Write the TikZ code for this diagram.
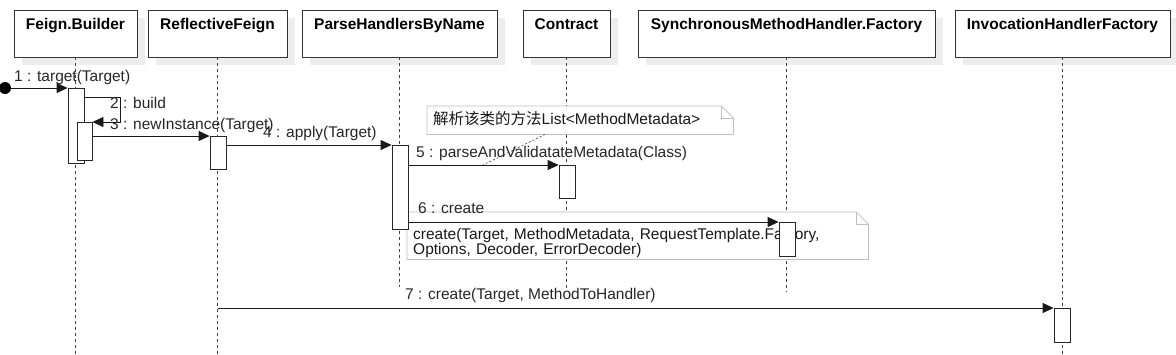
\documentclass[tikz,border=0pt]{standalone}
\usepackage{fontspec}
\setmainfont{Liberation Sans}
\newfontfamily\cjk{Noto Sans CJK SC}
\usetikzlibrary{arrows.meta,shadows}

\begin{document}
\begin{tikzpicture}[x=1pt, y=-1pt, font=\fontsize{15.5}{15}\selectfont,
    >={Triangle[length=11pt,width=10pt]},
    obj/.style={draw=black!80, line width=0.8pt, fill=white,
                minimum height=47pt, text height=10pt, text depth=18pt,
                inner xsep=0pt, font=\fontsize{15.5}{18}\selectfont\bfseries,
                general shadow={fill=black!7, shadow xshift=8pt, shadow yshift=-8pt}},
    lifeline/.style={black!75, line width=0.8pt, dash pattern=on 3pt off 3pt},
    act/.style={draw=black!85, line width=0.8pt, fill=white,
                minimum width=16pt, inner sep=0pt, anchor=north},
    msg/.style={->, black!90, line width=0.8pt},
    lbl/.style={anchor=base west, inner sep=0pt, text=black!85},
    note/.style={anchor=north west, fill=white, inner xsep=6pt, inner ysep=0pt,
                 align=left, text=black!90, text height=11pt, text depth=3pt},
    notedraw/.style={draw=black!25, line width=0.8pt},
    notelink/.style={black!75, line width=0.6pt, dash pattern=on 2pt off 2pt}]

\useasboundingbox (0,0) rectangle (1176,354);

% objects
\node[obj, minimum width=123pt] (fb)   at (75.5, 33.5) {Feign.Builder};
\node[obj, minimum width=139pt] (rf)   at (217.5,33.5) {ReflectiveFeign};
\node[obj, minimum width=195pt] (phbn) at (399.5,33.5) {ParseHandlersByName};
\node[obj, minimum width=87pt]  (ctr)  at (566.5,33.5) {Contract};
\node[obj, minimum width=297pt] (smhf) at (786.5,33.5) {SynchronousMethodHandler.Factory};
\node[obj, minimum width=215pt] (ihf)  at (1062.5,33.5) {InvocationHandlerFactory};

% lifelines
\draw[lifeline] (fb.south)   -- (fb.south |- 0,354);
\draw[lifeline] (rf.south)   -- (rf.south |- 0,354);
\draw[lifeline] (phbn.south) -- (phbn.south |- 0,287);
\draw[lifeline] (ctr.south)  -- (ctr.south |- 0,290);
\draw[lifeline] (smhf.south) -- (smhf.south |- 0,292);
\draw[lifeline] (ihf.south)  -- (ihf.south |- 0,354);

% notes
\node[note, minimum width=306pt, minimum height=28pt, text width=294pt]
    (n1) at (427,106) {{\cjk 解析该类的方法}List<MethodMetadata>};
\draw[notedraw] (n1.north west) -- ([xshift=-12pt]n1.north east)
    -- ([yshift=-12pt]n1.north east) -- (n1.south east) -- (n1.south west) -- cycle;
\draw[notedraw] ([xshift=-12pt]n1.north east) |- ([yshift=-12pt]n1.north east);

\node[note, minimum width=461pt, minimum height=47pt, text width=449pt]
    (n2) at (407,212) {create(Target, MethodMetadata, RequestTemplate.Factory,\\
                       Options, Decoder, ErrorDecoder)};
\draw[notedraw] (n2.north west) -- ([xshift=-12pt]n2.north east)
    -- ([yshift=-12pt]n2.north east) -- (n2.south east) -- (n2.south west) -- cycle;
\draw[notedraw] ([xshift=-12pt]n2.north east) |- ([yshift=-12pt]n2.north east);

% activations
\node[act, minimum height=75pt] (a1) at (76,88) {};
\node[act, minimum height=38pt, minimum width=15pt] (a2) at (84.5,122) {};
\node[act, minimum height=33pt] (a3) at (218,136) {};
\node[act, minimum height=84pt] (a4) at (400,145) {};
\node[act, minimum height=33pt] (a5) at (567,165) {};
\node[act, minimum height=34pt] (a6) at (787,222) {};
\node[act, minimum height=34pt] (a7) at (1062,308) {};

% messages
\node[circle, fill=black, minimum size=12pt, inner sep=0pt] (start) at (5,88) {};
\draw[msg] (start) -- (a1.north west);
\node[lbl] (l1) at (14,81) {1 : target(Target)};

\draw[msg] ([yshift=-9pt]a1.north east) -- ++(36,0) |- (a2.north east);
\node[lbl] (l2) at (110,108) {2 : build};

\draw[msg] (a2.east |- a3.north) -- (a3.north west);
\node[lbl] (l3) at (110,129) {3 : newInstance(Target)};

\draw[msg] (a3.east |- a4.north) -- (a4.north west);
\node[lbl] (l4) at (263,137) {4 : apply(Target)};

\draw[msg] (a4.east |- a5.north) -- (a5.north west);
\node[lbl] (l5) at (416,157) {5 : parseAndValidatateMetadata(Class)};

\draw[msg] (a4.east |- a6.north) -- (a6.north west);
\node[lbl] (l6) at (418,213) {6 : create};

\draw[msg] (rf.south |- a7.north) -- (a7.north west);
\node[lbl] (l7) at (405,299) {7 : create(Target, MethodToHandler)};

% note link
\coordinate (c5) at (483,165);
\draw[notelink] ([xshift=118pt]n1.south west) -- (c5);

\end{tikzpicture}
\end{document}
